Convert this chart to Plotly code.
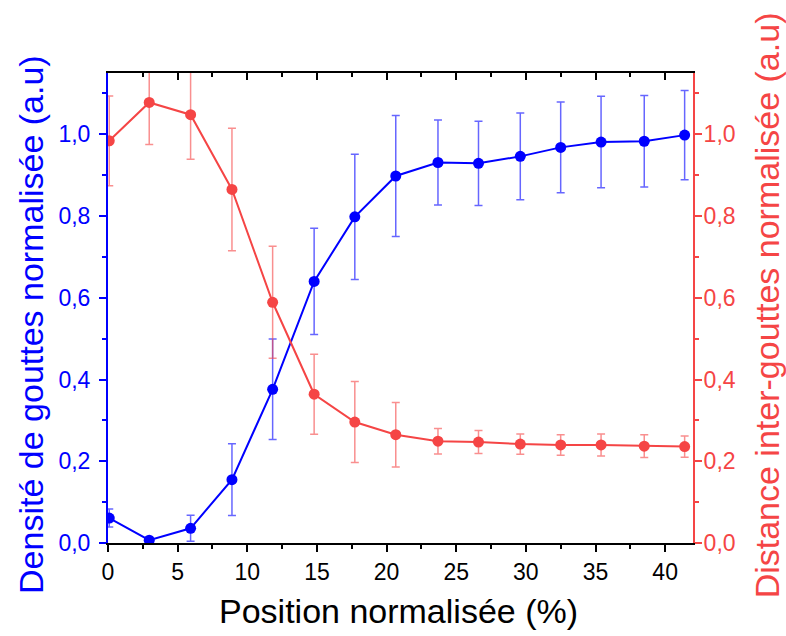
import plotly.graph_objects as go

# Data
position = [0.09, 2.96, 5.93, 8.9, 11.82, 14.8, 17.72, 20.66, 23.69, 26.6, 29.6, 32.5, 35.4, 38.5, 41.4]
densite = [0.061, 0.007, 0.036, 0.155, 0.376, 0.640, 0.798, 0.898, 0.931, 0.929, 0.946, 0.968, 0.981, 0.983, 0.998]
densite_err = [0.022, 0.006, 0.032, 0.088, 0.123, 0.130, 0.153, 0.148, 0.104, 0.103, 0.106, 0.111, 0.112, 0.112, 0.109]
distance = [0.984, 1.078, 1.048, 0.865, 0.589, 0.364, 0.296, 0.265, 0.249, 0.247, 0.242, 0.240, 0.240, 0.237, 0.236]
distance_err = [0.110, 0.103, 0.109, 0.150, 0.137, 0.098, 0.099, 0.079, 0.031, 0.028, 0.025, 0.025, 0.027, 0.028, 0.026]

x_title = "Position normalisée (%)"
y_title = "Densité de gouttes normalisée (a.u)"
y2_title = "Distance inter-gouttes normalisée (a.u)"

BLUE = "#0000FF"
RED = "#F54545"
FONT = "Liberation Sans"

fig = go.Figure()
fig.add_trace(go.Scatter(
    x=position, y=densite, mode="lines+markers",
    line=dict(color=BLUE, width=2),
    marker=dict(color=BLUE, size=11),
    error_y=dict(type="data", array=densite_err, color="rgba(0,0,255,0.6)", thickness=1.5, width=4),
    xaxis="x", yaxis="y", showlegend=False,
))
fig.add_trace(go.Scatter(
    x=position, y=distance, mode="lines+markers",
    line=dict(color=RED, width=2),
    marker=dict(color=RED, size=11),
    error_y=dict(type="data", array=distance_err, color="rgba(245,69,69,0.6)", thickness=1.5, width=4),
    xaxis="x2", yaxis="y2", showlegend=False,
))

tickfont = dict(family=FONT, size=23)
fig.update_layout(
    width=786, height=636,
    margin=dict(l=108, r=93, t=73, b=92.5),
    paper_bgcolor="white", plot_bgcolor="white",
    separators=", ",
    font=dict(family=FONT),
    xaxis=dict(
        range=[0, 42], tick0=0, dtick=5, ticks="outside", ticklen=7, tickwidth=2,
        tickcolor="black", showline=True, linecolor="black", linewidth=2,
        showgrid=False, zeroline=False, tickfont=dict(tickfont, color="black"),
        minor=dict(ticks="outside", ticklen=4, tickwidth=2, dtick=2.5, tickcolor="black", showgrid=False),
        anchor="y",
    ),
    xaxis2=dict(
        range=[0, 42], tick0=0, dtick=5, ticks="inside", ticklen=7, tickwidth=2,
        tickcolor="black", showline=True, linecolor="black", linewidth=2,
        showgrid=False, zeroline=False, showticklabels=False, side="top",
        overlaying="x", anchor="y2",
        minor=dict(ticks="inside", ticklen=4, tickwidth=2, dtick=2.5, tickcolor="black", showgrid=False),
    ),
    yaxis=dict(
        range=[0, 1.15], tick0=0, dtick=0.2, tickformat=".1f", ticks="outside", ticklen=7, tickwidth=2,
        tickcolor=BLUE, showline=True, linecolor=BLUE, linewidth=2, ticklabelstandoff=4,
        showgrid=False, zeroline=False, tickfont=dict(tickfont, color=BLUE),
        minor=dict(ticks="outside", ticklen=4, tickwidth=2, dtick=0.1, tickcolor=BLUE, showgrid=False),
        anchor="x",
    ),
    yaxis2=dict(
        range=[0, 1.15], tick0=0, dtick=0.2, tickformat=".1f", ticks="outside", ticklen=7, tickwidth=2,
        tickcolor=RED, showline=True, linecolor=RED, linewidth=2, ticklabelstandoff=-3,
        showgrid=False, zeroline=False, tickfont=dict(tickfont, color=RED),
        minor=dict(ticks="outside", ticklen=4, tickwidth=2, dtick=0.1, tickcolor=RED, showgrid=False),
        side="right", overlaying="y", anchor="x2",
    ),
    annotations=[
        dict(text=x_title, xref="paper", yref="paper", x=0.497, y=-0.145,
             xanchor="center", yanchor="middle", showarrow=False,
             font=dict(family=FONT, size=34, color="black")),
        dict(text=y_title, xref="paper", yref="paper", x=-0.1316, y=0.464,
             xanchor="center", yanchor="middle", textangle=-90, showarrow=False,
             font=dict(family=FONT, size=34, color=BLUE)),
        dict(text=y2_title, xref="paper", yref="paper", x=1.126, y=0.505,
             xanchor="center", yanchor="middle", textangle=-90, showarrow=False,
             font=dict(family=FONT, size=34, color=RED)),
    ],
)

fig.write_html("out.html", config={"displayModeBar": False},
               post_script="document.body.style.margin='0';")
